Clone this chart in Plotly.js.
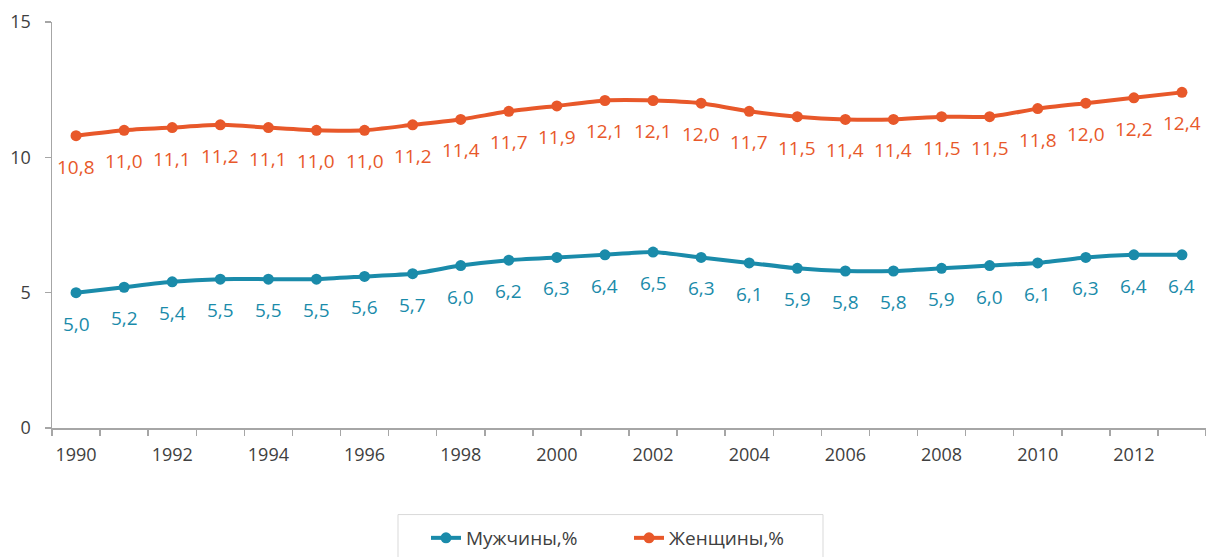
<!DOCTYPE html>
<html><head><meta charset="utf-8">
<script src="https://cdn.plot.ly/plotly-3.0.1.min.js"></script>
<style>body{margin:0;background:#fff}#chart{width:1206px;height:557px}</style>
</head><body><div id="chart"></div>
<script>
const years = [1990,1991,1992,1993,1994,1995,1996,1997,1998,1999,2000,2001,2002,2003,2004,2005,2006,2007,2008,2009,2010,2011,2012,2013];
const men = [5.0,5.2,5.4,5.5,5.5,5.5,5.6,5.7,6.0,6.2,6.3,6.4,6.5,6.3,6.1,5.9,5.8,5.8,5.9,6.0,6.1,6.3,6.4,6.4];
const women = [10.8,11.0,11.1,11.2,11.1,11.0,11.0,11.2,11.4,11.7,11.9,12.1,12.1,12.0,11.7,11.5,11.4,11.4,11.5,11.5,11.8,12.0,12.2,12.4];
const names = ['Мужчины,%','Женщины,%'];
const colors = ['#1A8BAA','#E8582A'];
const xTickVals = [1990,1992,1994,1996,1998,2000,2002,2004,2006,2008,2010,2012];

const fmt = v => v.toFixed(1).replace('.', ',');
const FONT = 'Open Sans, sans-serif';

function trace(y, i){
  return {x: years, y: y, name: names[i], type:'scatter', mode:'lines+markers',
    line:{color:colors[i], width:4, shape:'spline', smoothing:0.5},
    marker:{color:colors[i], size:11}};
}
const annotations = [];
[men, women].forEach((arr,i)=>{
  arr.forEach((v,k)=>{
    annotations.push({x: years[k], y: v, text: fmt(v), showarrow:false, yshift:-31,
      font:{family:FONT, size:19, color:colors[i]}});
  });
});

const W = 1206, L = 52, R = 0, T = 22, B = 127, H = 557;
const pw = W - L - R, ph = H - T - B;
const px = x => (x - L) / pw;
const py = y => (H - B - y) / ph;

const layout = {
  width:W, height:H,
  margin:{l:L, r:R, t:T, b:B},
  paper_bgcolor:'#fff', plot_bgcolor:'#fff',
  font:{family:FONT, size:18, color:'#404040'},
  showlegend:true,
  legend:{orientation:'h', x:px(426), xanchor:'left', y:py(522), yanchor:'top',
    entrywidth:158, borderwidth:0, bgcolor:'rgba(0,0,0,0)', font:{size:19, color:'#404040'}},
  shapes:[{type:'rect', xref:'paper', yref:'paper', x0:px(398), x1:px(823), y0:py(517), y1:py(575),
    line:{color:'#d9d9d9', width:1}, fillcolor:'rgba(0,0,0,0)'}],
  xaxis:{range:[1989.5,2013.5], tickmode:'array', tickvals:xTickVals, ticktext:xTickVals.map(String),
    ticks:'', showgrid:false, zeroline:false, showline:true, linecolor:'#a6a6a6', linewidth:1.5,
    ticklabelstandoff:10,
    minor:{tick0:1989.5, dtick:1, ticks:'outside', ticklen:6, tickcolor:'#a6a6a6', tickwidth:1.5, showgrid:false}},
  yaxis:{range:[0,15], tickvals:[0,5,10,15], ticks:'outside', ticklen:6, tickcolor:'#a6a6a6', tickwidth:1.5,
    showgrid:false, zeroline:false, showline:true, linecolor:'#a6a6a6', linewidth:1.5, ticklabelstandoff:10},
  annotations: annotations
};
Plotly.newPlot('chart', [trace(men,0), trace(women,1)], layout, {displayModeBar:false, staticPlot:true});
</script></body></html>
